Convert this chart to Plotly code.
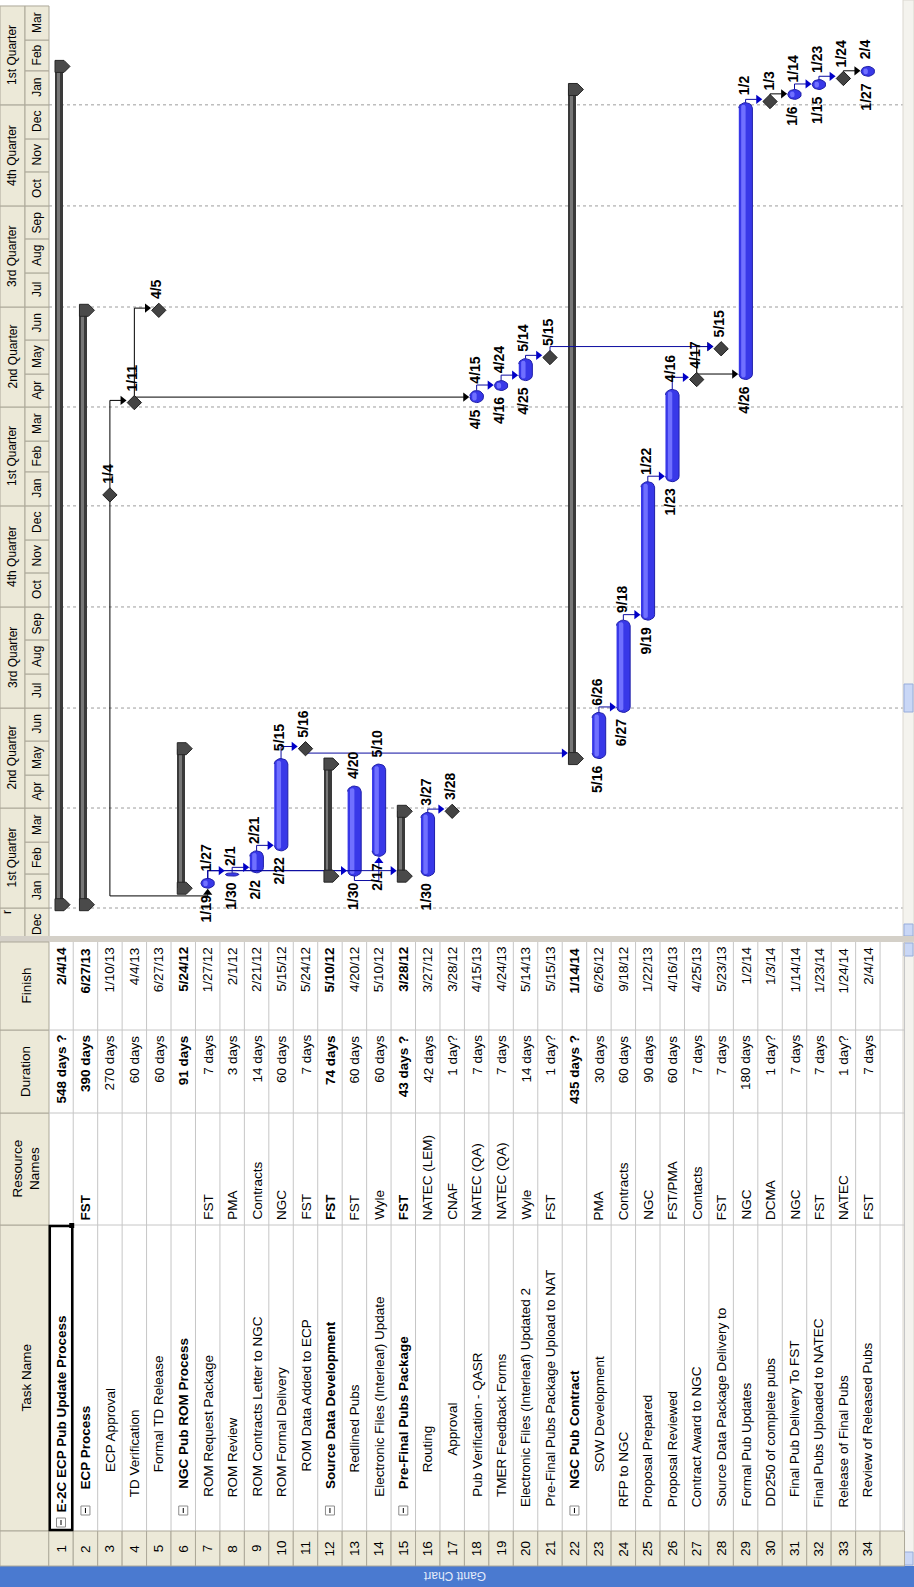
import math
import plotly.graph_objects as go
from datetime import datetime, timedelta

# ---------------------------------------------------------------- project data
task_names = [
    "E-2C ECP Pub Update Process", "ECP Process", "ECP Approval", "TD Verification",
    "Formal TD Release", "NGC Pub ROM Process", "ROM Request Package", "ROM Review",
    "ROM Contracts Letter to NGC", "ROM Formal Delivery", "ROM Data Added to ECP",
    "Source Data Development", "Redlined Pubs", "Electronic Files (Interleaf) Update",
    "Pre-Final Pubs Package", "Routing", "Approval", "Pub Verification - QASR",
    "TMER Feedback Forms", "Electronic Files (Interleaf) Updated 2",
    "Pre-Final Pubs Package Upload to NAT", "NGC Pub Contract", "SOW Development",
    "RFP to NGC", "Proposal Prepared", "Proposal Reviewed", "Contract Award to NGC",
    "Source Data Package Delivery to", "Formal Pub Updates", "DD250 of complete pubs",
    "Final Pub Delivery To FST", "Final Pubs Uploaded to NATEC", "Release of Final Pubs",
    "Review of Released Pubs",
]
resource_names = [
    "", "FST", "", "", "", "", "FST", "PMA", "Contracts", "NGC", "FST", "FST", "FST",
    "Wyle", "FST", "NATEC (LEM)", "CNAF", "NATEC (QA)", "NATEC (QA)", "Wyle", "FST", "",
    "PMA", "Contracts", "NGC", "FST/PMA", "Contacts", "FST", "NGC", "DCMA", "NGC", "FST",
    "NATEC", "FST",
]
durations = [
    "548 days ?", "390 days", "270 days", "60 days", "60 days", "91 days", "7 days",
    "3 days", "14 days", "60 days", "7 days", "74 days", "60 days", "60 days", "43 days ?",
    "42 days", "1 day?", "7 days", "7 days", "14 days", "1 day?", "435 days ?", "30 days",
    "60 days", "90 days", "60 days", "7 days", "7 days", "180 days", "1 day?", "7 days",
    "7 days", "1 day?", "7 days",
]
start_dates = [
    "2012-01-04", "2012-01-04", "2012-01-04", "2013-01-11", "2013-04-05", "2012-01-19",
    "2012-01-19", "2012-01-30", "2012-02-02", "2012-02-22", "2012-05-16", "2012-01-30",
    "2012-01-30", "2012-02-17", "2012-01-30", "2012-01-30", "2012-03-28", "2013-04-05",
    "2013-04-16", "2013-04-25", "2013-05-15", "2012-05-16", "2012-05-16", "2012-06-27",
    "2012-09-19", "2013-01-23", "2013-04-17", "2013-05-15", "2013-04-26", "2014-01-03",
    "2014-01-06", "2014-01-15", "2014-01-24", "2014-01-27",
]
finish_dates = [
    "2014-02-04", "2013-06-27", "2013-01-10", "2013-04-04", "2013-06-27", "2012-05-24",
    "2012-01-27", "2012-02-01", "2012-02-21", "2012-05-15", "2012-05-24", "2012-05-10",
    "2012-04-20", "2012-05-10", "2012-03-28", "2012-03-27", "2012-03-28", "2013-04-15",
    "2013-04-24", "2013-05-14", "2013-05-15", "2014-01-14", "2012-06-26", "2012-09-18",
    "2013-01-22", "2013-04-16", "2013-04-25", "2013-05-23", "2014-01-02", "2014-01-03",
    "2014-01-14", "2014-01-23", "2014-01-24", "2014-02-04",
]
# how each row is drawn in the chart
task_kinds = [
    "summary", "summary", "milestone", "milestone", "milestone", "summary", "task", "task",
    "task", "task", "milestone", "summary", "task", "task", "summary", "task", "milestone",
    "task", "task", "task", "milestone", "summary", "task", "task", "task", "task",
    "milestone", "milestone", "task", "milestone", "task", "task", "milestone", "task",
]
outline_levels = [0, 1, 2, 2, 2, 1, 2, 2, 2, 2, 2, 1, 2, 2, 1, 2, 2, 2, 2, 2, 2, 1,
                  2, 2, 2, 2, 2, 2, 2, 2, 2, 2, 2, 2]
# (predecessor, successor, link style)
links = [
    (3, 7, "FSU"), (3, 4, "FS"), (4, 5, "FS"), (4, 18, "FS"),
    (7, 8, "FS"), (7, 13, "FS"), (7, 15, "FS"), (8, 9, "FS"), (9, 10, "FS"),
    (10, 11, "FS"), (11, 22, "FS"), (13, 14, "SS"), (16, 17, "FS"),
    (18, 19, "FS"), (19, 20, "FS"), (20, 21, "FS"), (21, 28, "FS"),
    (23, 24, "FS"), (24, 25, "FS"), (25, 26, "FS"), (26, 27, "FS"),
    (27, 28, "FS"), (27, 29, "FS"), (29, 30, "FS"), (30, 31, "FS"),
    (31, 32, "FS"), (32, 33, "FS"), (33, 34, "FS"),
]
black_links = {(3, 7), (3, 4), (4, 5), (4, 18), (27, 28), (27, 29), (30, 31), (33, 34)}

timescale_start, timescale_end = "2011-10-01", "2014-04-01"
month_abbr = ["Jan", "Feb", "Mar", "Apr", "May", "Jun",
              "Jul", "Aug", "Sep", "Oct", "Nov", "Dec"]
quarter_names = {1: "1st Quarter", 4: "2nd Quarter", 7: "3rd Quarter", 10: "4th Quarter"}
column_titles = ["Task Name", "Resource<br>Names", "Duration", "Finish"]
view_name = "Gantt Chart"

# ---------------------------------------------------------------- styling
W, H = 914, 1587
FONT = "Arial, Liberation Sans, sans-serif"
ROW_PITCH = 24.45          # px per table row
ROW1_X = 61.0              # px centre of row 1
PX_PER_DAY = 1.0987
EPOCH_Y = 908.0            # px of 2012-01-01 on the timescale
EPOCH = datetime(2012, 1, 1)
GANTT_BOTTOM = 936
HDR_SPLIT, HDR_RIGHT = 25, 49
GANTT_RIGHT = 903
COL_FINISH = (942, 1030)
COL_DUR = (1030, 1113)
COL_RES = (1113, 1225)
COL_TASK = (1225, 1531)
COL_ID = (1531, 1566)
VIEWBAR = (1566, 1587)
BEIGE = "#ECE9D8"
BEIGE_LINE = "#ACA899"
GRID = "#C6C6C6"
BLUE_LINK = "#0C0CA0"
TABLE_FONT = 13.5
LABEL_FONT = 14
# distance of the task-name text from the ID column, per row
name_indent = [17, 41, 58, 33, 58, 41, 33, 33, 33, 33, 58, 41, 58, 33, 41, 58, 74, 33,
               33, 23, 23, 41, 58, 23, 23, 23, 23, 23, 23, 23, 33, 23, 23, 33]

DAY = timedelta(days=1)


def to_dt(s):
    return datetime.strptime(s, "%Y-%m-%d")


def ds(d):
    return d.strftime("%Y-%m-%d %H:%M:%S")


def px_days(p):
    return timedelta(days=p / PX_PER_DAY)


def px_rows(p):
    return p / ROW_PITCH


def px_to_date(p):
    return EPOCH + px_days(EPOCH_Y - p)


def fx(x):
    return x / W


def fy(y):
    return 1 - y / H


def row_px(k):
    return ROW1_X + (k - 1) * ROW_PITCH


def mdy(s):
    d = to_dt(s)
    return f"{d.month}/{d.day}/{d.year % 100:02d}"


def md(d):
    return f"{d.month}/{d.day}"


N = len(task_names)
starts = [to_dt(s) for s in start_dates]
ends = [to_dt(s) + DAY for s in finish_dates]      # end of the finish day
rows = list(range(1, N + 1))

fig = go.Figure()

# ---------------------------------------------------------------- summary bars
s_idx = [i for i in range(N) if task_kinds[i] == "summary"]
fig.add_bar(x=[rows[i] for i in s_idx], base=[ds(starts[i]) for i in s_idx],
            y=[(ends[i] - starts[i]).total_seconds() * 1000 for i in s_idx],
            width=px_rows(8), offset=px_rows(-6),
            marker=dict(color="#3A3A3A", line=dict(width=0)), hoverinfo="skip")
fig.add_bar(x=[rows[i] for i in s_idx], base=[ds(starts[i]) for i in s_idx],
            y=[(ends[i] - starts[i]).total_seconds() * 1000 for i in s_idx],
            width=px_rows(2.5), offset=px_rows(-4),
            marker=dict(color="#777777", line=dict(width=0)), hoverinfo="skip")


# ---------------------------------------------------------------- task bars
def capsule(k, s, e, hw, xoff=0.0, inset=0.0, n=10):
    """Outline of a bar with rounded ends, in row/date coordinates."""
    s_in, e_in = s + px_days(inset), e - px_days(inset)
    length_px = (e_in - s_in).total_seconds() / 86400 * PX_PER_DAY
    r = max(min(hw * 0.8, length_px / 2), 0.5)
    xs, ys = [], []
    for j in range(n + 1):
        t = math.pi + math.pi * j / n
        xs.append(k + px_rows(xoff + hw * math.cos(t)))
        ys.append(ds(s_in + px_days(r + r * math.sin(t))))
    for j in range(n + 1):
        t = math.pi * j / n
        xs.append(k + px_rows(xoff + hw * math.cos(t)))
        ys.append(ds(e_in - px_days(r - r * math.sin(t))))
    xs.append(None)
    ys.append(None)
    return xs, ys


t_idx = [i for i in range(N) if task_kinds[i] == "task"]
bx, by, hx, hy = [], [], [], []
for i in t_idx:
    xs, ys = capsule(rows[i], starts[i], ends[i], 6.8)
    bx += xs
    by += ys
    if (ends[i] - starts[i]).days >= 6:
        xs, ys = capsule(rows[i], starts[i], ends[i], 2.2, xoff=-2.2, inset=2.0)
        hx += xs
        hy += ys
fig.add_scatter(x=bx, y=by, mode="lines", fill="toself", fillcolor="#3838E8",
                line=dict(color="#1E1EA8", width=1), hoverinfo="skip")
fig.add_scatter(x=hx, y=hy, mode="lines", fill="toself", fillcolor="#7070FF",
                line=dict(width=0), hoverinfo="skip")


# ---------------------------------------------------------------- link lines
def diamond_date(i):
    return ends[i]


def source_date(i):
    return diamond_date(i) if task_kinds[i] == "milestone" else ends[i]


line_xy = {"k": ([], []), "b": ([], [])}
arrows = {("k", "right"): ([], []), ("k", "up"): ([], []),
          ("b", "right"): ([], []), ("b", "up"): ([], [])}
for a, b, style in links:
    ia, ib = a - 1, b - 1
    col = "k" if (a, b) in black_links else "b"
    if style in ("SS", "FSU"):
        if style == "SS":
            src = starts[ia]
            drop = min(starts[ia], starts[ib]) - 4 * DAY
        else:
            src = source_date(ia)
            drop = starts[ib] - 7 * DAY
        pts = [(a, src), (a, drop), (b, drop), (b, starts[ib] - px_days(6))]
        arrows[(col, "up")][0].append(b)
        arrows[(col, "up")][1].append(ds(starts[ib] - px_days(4.6)))
    else:
        if task_kinds[ib] == "milestone":
            yl, edge = diamond_date(ib) + 2 * DAY, -7.2
        elif task_kinds[ib] == "summary":
            yl, edge = starts[ib] + 5 * DAY, -6.0
        else:
            yl, edge = starts[ib] + 5 * DAY, -6.8
        pts = [(a, source_date(ia)), (a, yl), (b + px_rows(edge - 6), yl)]
        arrows[(col, "right")][0].append(b + px_rows(edge - 4.6))
        arrows[(col, "right")][1].append(ds(yl))
    xs, ys = line_xy[col]
    xs.extend([p[0] for p in pts] + [None])
    ys.extend([ds(p[1]) for p in pts] + [None])

colors = {"k": "#000000", "b": BLUE_LINK}
for col, (xs, ys) in line_xy.items():
    fig.add_scatter(x=xs, y=ys, mode="lines", line=dict(color=colors[col], width=1),
                    hoverinfo="skip")
for (col, dirn), (xs, ys) in arrows.items():
    if xs:
        fig.add_scatter(x=xs, y=ys, mode="markers", hoverinfo="skip",
                        marker=dict(symbol="triangle-" + dirn, size=8,
                                    color="#000000" if col == "k" else "#0000C8",
                                    line=dict(width=0)))

# ---------------------------------------------------------------- milestones
m_idx = [i for i in range(N) if task_kinds[i] == "milestone"]
fig.add_scatter(x=[rows[i] for i in m_idx], y=[ds(diamond_date(i)) for i in m_idx],
                mode="markers", hoverinfo="skip",
                marker=dict(symbol="diamond", size=11, color="#434343",
                            line=dict(color="#1E1E1E", width=1)))

shapes = []
annotations = []


def text(x, y, s, xref="paper", yref="paper", angle=-90, size=13, bold=False,
         color="#000000", xanchor="center", yanchor="middle", xshift=0, yshift=0):
    annotations.append(dict(
        x=x, y=y, xref=xref, yref=yref, text=f"<b>{s}</b>" if bold else s,
        textangle=angle, showarrow=False, xanchor=xanchor, yanchor=yanchor,
        xshift=xshift, yshift=yshift, borderpad=0,
        font=dict(family=FONT, size=size, color=color)))


def rect_px(x0, y0, x1, y1, fill, line=None, width=1, layer="below"):
    shapes.append(dict(type="rect", xref="paper", yref="paper",
                       x0=fx(x0), x1=fx(x1), y0=fy(y0), y1=fy(y1),
                       fillcolor=fill, layer=layer,
                       line=dict(color=line or fill, width=width if line else 0)))


def line_px(x0, y0, x1, y1, color, width=1, layer="below"):
    shapes.append(dict(type="line", xref="paper", yref="paper",
                       x0=fx(x0), x1=fx(x1), y0=fy(y0), y1=fy(y1), layer=layer,
                       line=dict(color=color, width=width)))


# summary end caps (pointer shapes)
cap_path = "M-6,-6 L3,-6 L9,0 L3,6 L-6,6 Z"
for i in s_idx:
    for d in (starts[i], ends[i]):
        shapes.append(dict(type="path", xref="x", yref="y", xsizemode="pixel",
                           ysizemode="pixel", xanchor=rows[i], yanchor=ds(d),
                           path=cap_path, fillcolor="#4A4A4A", layer="above",
                           line=dict(color="#262626", width=1)))

# ---------------------------------------------------------------- bar labels
for i in range(N):
    k = rows[i]
    if task_kinds[i] == "task":
        text(k, ds(ends[i]), md(to_dt(finish_dates[i])), xref="x", yref="y",
             yanchor="bottom", yshift=6, xshift=-2, bold=True, size=LABEL_FONT)
        text(k, ds(starts[i]), md(starts[i]), xref="x", yref="y",
             yanchor="top", yshift=-6, xshift=-2, bold=True, size=LABEL_FONT)
    elif task_kinds[i] == "milestone":
        text(k, ds(diamond_date(i)), md(starts[i]), xref="x", yref="y",
             yanchor="bottom", yshift=10, xshift=-2, bold=True, size=LABEL_FONT)

# ---------------------------------------------------------------- timescale
ts0, ts1 = to_dt(timescale_start), to_dt(timescale_end)
m = ts0
while m < ts1:
    nxt = datetime(m.year + (m.month == 12), m.month % 12 + 1, 1)
    if m.month in quarter_names:
        q_end = datetime(m.year + (m.month == 10), (m.month + 2) % 12 + 1, 1)
        shapes.append(dict(type="rect", xref="paper", yref="y", x0=0, x1=fx(HDR_SPLIT),
                           y0=ds(m), y1=ds(q_end), fillcolor=BEIGE, layer="below",
                           line=dict(color=BEIGE_LINE, width=1)))
        text(fx(HDR_SPLIT / 2), ds(m + (q_end - m) / 2), quarter_names[m.month],
             yref="y", size=12)
        shapes.append(dict(type="line", xref="paper", yref="y", x0=fx(HDR_RIGHT),
                           x1=fx(GANTT_RIGHT), y0=ds(m), y1=ds(m), layer="below",
                           line=dict(color="#9C9C9C", width=1, dash="dot")))
    shapes.append(dict(type="rect", xref="paper", yref="y", x0=fx(HDR_SPLIT),
                       x1=fx(HDR_RIGHT), y0=ds(m), y1=ds(nxt), fillcolor=BEIGE,
                       layer="below", line=dict(color=BEIGE_LINE, width=1)))
    text(fx((HDR_SPLIT + HDR_RIGHT) / 2), ds(m + (nxt - m) / 2), month_abbr[m.month - 1],
         yref="y", size=12)
    m = nxt
# tail of the partly scrolled-off quarter caption
text(fx(7), fy(GANTT_BOTTOM - 24), "r", size=12)

# ---------------------------------------------------------------- window chrome
rect_px(GANTT_RIGHT, 0, W, GANTT_BOTTOM, "#F4F3EE", "#DAD7CF")
rect_px(GANTT_RIGHT + 1, 684, W - 1, 712, "#C9D7F6", "#97ACDB")
rect_px(GANTT_RIGHT + 1, GANTT_BOTTOM - 12, W - 1, GANTT_BOTTOM, "#C9D7F6", "#97ACDB")
rect_px(0, GANTT_BOTTOM, W, COL_FINISH[0], "#D4D0C8")
rect_px(GANTT_RIGHT, COL_FINISH[0], W, COL_ID[1], "#F4F3EE", "#DAD7CF")
rect_px(GANTT_RIGHT + 1, COL_FINISH[0] + 1, W - 1, COL_FINISH[0] + 14, "#C9D7F6", "#97ACDB")
rect_px(GANTT_RIGHT + 1, COL_ID[1] - 14, W - 1, COL_ID[1] - 1, "#C9D7F6", "#97ACDB")
rect_px(0, VIEWBAR[0], W, VIEWBAR[1], "#4A7AD0")
text(fx(455), fy((VIEWBAR[0] + VIEWBAR[1]) / 2), view_name, angle=180, size=12,
     color="#E4ECFA")

# ---------------------------------------------------------------- table
table_cols = [COL_TASK, COL_RES, COL_DUR, COL_FINISH]
last_edge = row_px(N + 1) + ROW_PITCH / 2
first_edge = row_px(1) - ROW_PITCH / 2
for (y0, y1), title in zip(table_cols, column_titles):
    rect_px(0, y0, HDR_RIGHT, y1, BEIGE, BEIGE_LINE)
    text(fx(HDR_RIGHT / 2 + 1), fy((y0 + y1) / 2), title, size=TABLE_FONT)
rect_px(0, COL_ID[0], HDR_RIGHT, COL_ID[1], BEIGE, BEIGE_LINE)
for k in range(1, N + 2):
    x0, x1 = row_px(k) - ROW_PITCH / 2, row_px(k) + ROW_PITCH / 2
    rect_px(x0, COL_ID[0], x1, COL_ID[1], BEIGE, BEIGE_LINE)
    line_px(x1, COL_FINISH[0], x1, COL_ID[0], GRID)
for y in (COL_DUR[0], COL_RES[0], COL_TASK[0]):
    line_px(first_edge, y, last_edge, y, GRID)

for i in range(N):
    k = rows[i]
    xc = fx(row_px(k))
    bold = task_kinds[i] == "summary"
    text(xc, fy((COL_ID[0] + COL_ID[1]) / 2), str(k), size=TABLE_FONT)
    if bold:
        lvl = outline_levels[i]
        bxp = row_px(k)
        b_top = COL_ID[0] - 4 - 12 * lvl
        rect_px(bxp - 4.5, b_top - 9, bxp + 4.5, b_top, "#FFFFFF", "#8C8C8C",
                layer="above")
        line_px(bxp, b_top - 7, bxp, b_top - 2, "#000000", layer="above")
    text(xc, fy(COL_ID[0] - name_indent[i]), task_names[i], size=TABLE_FONT, bold=bold,
         yanchor="bottom")
    if resource_names[i]:
        text(xc, fy(COL_RES[1] - 4), resource_names[i], size=TABLE_FONT, bold=bold,
             yanchor="bottom")
    text(xc, fy(COL_DUR[0] + 4), durations[i], size=TABLE_FONT, bold=bold, yanchor="top")
    text(xc, fy(COL_FINISH[0] + 4), mdy(finish_dates[i]), size=TABLE_FONT, bold=bold,
         yanchor="top")

# selected cell outline (row 1 task name)
sel_x0, sel_x1 = row_px(1) - ROW_PITCH / 2 + 1, row_px(1) + ROW_PITCH / 2 - 1
rect_px(sel_x0, COL_TASK[0] + 1, sel_x1, COL_TASK[1] - 1, "rgba(0,0,0,0)", "#000000",
        width=2.5, layer="above")
rect_px(sel_x1 - 3, COL_TASK[0] - 2, sel_x1 + 2, COL_TASK[0] + 3, "#000000", layer="above")

# ---------------------------------------------------------------- layout
x_range = [1 - ROW1_X / ROW_PITCH, 1 + (W - ROW1_X) / ROW_PITCH]
y_range = [ds(px_to_date(GANTT_BOTTOM)), ds(px_to_date(0))]
fig.update_layout(
    width=W, height=H, margin=dict(l=0, r=0, t=0, b=0),
    paper_bgcolor="#FFFFFF", plot_bgcolor="rgba(0,0,0,0)",
    showlegend=False, barmode="overlay", bargap=0,
    xaxis=dict(range=x_range, domain=[0, 1], visible=False, fixedrange=True),
    yaxis=dict(type="date", range=y_range, domain=[1 - GANTT_BOTTOM / H, 1],
               visible=False, fixedrange=True),
    shapes=shapes, annotations=annotations,
)
fig.write_html("out.html", config={"displayModeBar": False})
